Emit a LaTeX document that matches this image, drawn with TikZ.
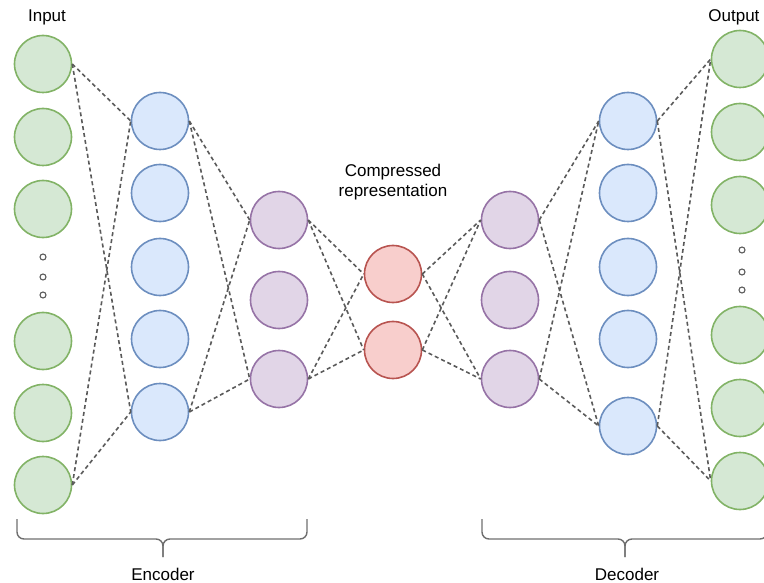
\documentclass[tikz,border=0pt]{standalone}
\usepackage{fontspec}
\setmainfont{Liberation Sans}
\usepackage{tikz}
\definecolor{grnfill}{HTML}{D5E8D4}
\definecolor{grnline}{HTML}{82B366}
\definecolor{blufill}{HTML}{DAE8FC}
\definecolor{bluline}{HTML}{6C8EBF}
\definecolor{prpfill}{HTML}{E1D5E7}
\definecolor{prpline}{HTML}{9673A6}
\definecolor{redfill}{HTML}{F8CECC}
\definecolor{redline}{HTML}{B85450}
\definecolor{linkgray}{HTML}{5A5A5A}
\definecolor{bracegray}{HTML}{6E6E6E}

\begin{document}
\begin{tikzpicture}[x=1pt,y=-1pt, every node/.style={font=\fontsize{17}{20}\selectfont},
		neuron/.style={draw,circle,minimum size=57pt,inner sep=0pt,line width=1.6pt},
		ionode/.style={neuron,draw=grnline,fill=grnfill},
		encnode/.style={neuron,draw=bluline,fill=blufill},
		midnode/.style={neuron,draw=prpline,fill=prpfill},
		codenode/.style={neuron,draw=redline,fill=redfill},
		dotnode/.style={draw=linkgray,circle,minimum size=6pt,inner sep=0pt,line width=1.1pt},
		link/.style={draw=linkgray,line width=1.6pt,dash pattern=on 4pt off 3pt},
		brace/.style={draw=bracegray,line width=1.4pt,rounded corners=7pt}]
		\useasboundingbox (0,0) rectangle (764,583);
		\clip (0,0) rectangle (764,583);
		
		\node[ionode] (in1)at(43,64) {};
		\node[ionode] (in2)at(43,137) {};
		\node[ionode] (in3)at(43,209) {};
		\node[ionode] (in4)at(43,341) {};
		\node[ionode] (in5)at(43,413) {};
		\node[ionode] (in6)at(43,485) {};
		\node[dotnode] (ldot1)at(43,257) {};
		\node[dotnode] (ldot2)at(43,277) {};
		\node[dotnode] (ldot3)at(43,295) {};
		\node[encnode] (ea1)at(160,121) {};
		\node[encnode] (ea2)at(160,193) {};
		\node[encnode] (ea3)at(160,267) {};
		\node[encnode] (ea4)at(160,339) {};
		\node[encnode] (ea5)at(160,412) {};
		\node[midnode] (eb1)at(279,220) {};
		\node[midnode] (eb2)at(279,300) {};
		\node[midnode] (eb3)at(279,379) {};
		\node[codenode] (z1)at(393,274) {};
		\node[codenode] (z2)at(393,350) {};
		\node[midnode] (db1)at(510,220) {};
		\node[midnode] (db2)at(510,300) {};
		\node[midnode] (db3)at(510,379) {};
		\node[encnode] (da1)at(628,121) {};
		\node[encnode] (da2)at(628,193) {};
		\node[encnode] (da3)at(628,267) {};
		\node[encnode] (da4)at(628,339) {};
		\node[encnode] (da5)at(628,426) {};
		\node[ionode] (out1)at(740,59) {};
		\node[ionode] (out2)at(740,132) {};
		\node[ionode] (out3)at(740,205) {};
		\node[ionode] (out4)at(740,335) {};
		\node[ionode] (out5)at(740,408) {};
		\node[ionode] (out6)at(740,481) {};
		\node[dotnode] (rdot1)at(742,250) {};
		\node[dotnode] (rdot2)at(742,272) {};
		\node[dotnode] (rdot3)at(742,290) {};
		
		\draw[link] (in1.east) -- (ea1.west);
		\draw[link] (in1.east) -- (ea5.west);
		\draw[link] (in6.east) -- (ea1.west);
		\draw[link] (in6.east) -- (ea5.west);
		\draw[link] (ea1.east) -- (eb1.west);
		\draw[link] (ea1.east) -- (eb3.west);
		\draw[link] (ea5.east) -- (eb1.west);
		\draw[link] (ea5.east) -- (eb3.west);
		\draw[link] (eb1.east) -- (z1.west);
		\draw[link] (eb1.east) -- (z2.west);
		\draw[link] (eb3.east) -- (z1.west);
		\draw[link] (eb3.east) -- (z2.west);
		\draw[link] (z1.east) -- (db1.west);
		\draw[link] (z1.east) -- (db3.west);
		\draw[link] (z2.east) -- (db1.west);
		\draw[link] (z2.east) -- (db3.west);
		\draw[link] (db1.east) -- (da1.west);
		\draw[link] (db1.east) -- (da5.west);
		\draw[link] (db3.east) -- (da1.west);
		\draw[link] (db3.east) -- (da5.west);
		\draw[link] (da1.east) -- (out1.west);
		\draw[link] (da1.east) -- (out6.west);
		\draw[link] (da5.east) -- (out1.west);
		\draw[link] (da5.east) -- (out6.west);
		
		\node[anchor=base] (intxt) at (47,22) {Input};
		\node[anchor=base east] (outtxt) at (763,22) {Output};
		\node[align=center] (codetxt) at (393,182) {Compressed\\representation};
		
		\draw[brace] (17,519) |- (163,539) -- (163,557);
		\draw[brace] (307,519) |- (163,539) -- (163,557);
		\draw[brace] (482,519) |- (625,539) -- (625,557);
		\draw[brace] (767,519) |- (625,539) -- (625,557);
		\node[anchor=base] (enctxt) at (163,580) {Encoder};
		\node[anchor=base] (dectxt) at (627,580) {Decoder};
		
		\end{tikzpicture}
\end{document}
